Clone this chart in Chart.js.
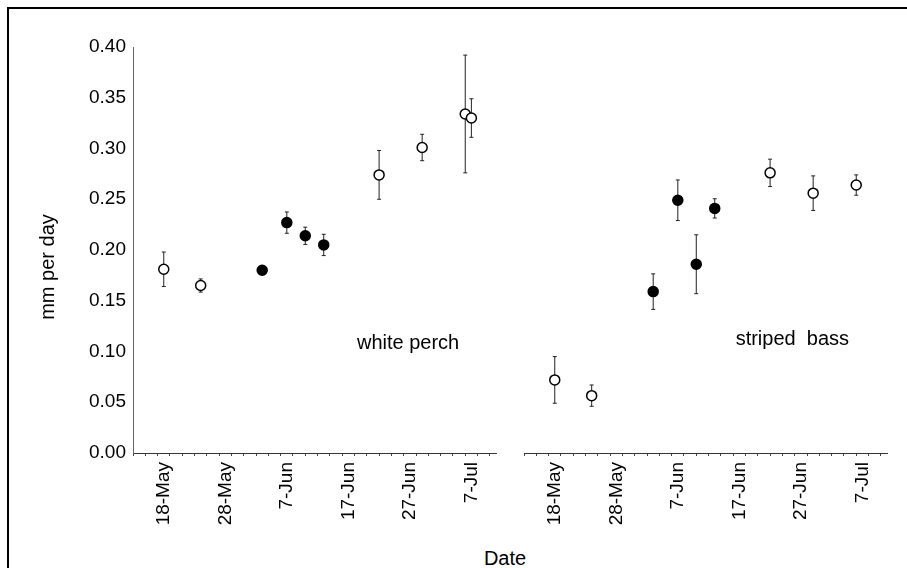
<!DOCTYPE html>
<html>
<head>
<meta charset="utf-8">
<script src="https://cdn.jsdelivr.net/npm/chart.js@4.4.1/dist/chart.umd.min.js"></script>
<style>
  html, body { margin: 0; padding: 0; background: #fff; }
  body { width: 907px; height: 568px; position: relative; overflow: hidden;
         font-family: 'Liberation Sans', Arial, sans-serif; color: #000; }
  #frame { position: absolute; left: 7px; top: 7px; width: 960px; height: 600px;
           border-left: 2px solid #000; border-top: 2px solid #000; }
  #left { position: absolute; left: 0; top: 0; }
  #right { position: absolute; left: 505px; top: 0; }
  .title { position: absolute; font-size: 20px; line-height: 24px; height: 24px; text-align: center; white-space: nowrap; }
  #xtitle { left: 455px; width: 100px; top: 546px; }
  #ytitle { left: -13px; width: 120px; top: 255px; transform: rotate(-90deg); }
</style>
</head>
<body>
<div id="frame"></div>
<canvas id="left" width="505" height="530"></canvas>
<canvas id="right" width="402" height="530"></canvas>
<div class="title" id="ytitle">mm per day</div>
<div class="title" id="xtitle">Date</div>
<script>
// x axis labels (days counted from 18-May)
var tickDays = [0, 10, 20, 30, 40, 50];
var tickLabels = ['18-May', '28-May', '7-Jun', '17-Jun', '27-Jun', '7-Jul'];

// white perch
var perchDates = ['18-May', '24-May', '3-Jun', '7-Jun', '10-Jun', '13-Jun', '22-Jun', '29-Jun', '6-Jul', '7-Jul'];
var perchMean = [0.181, 0.165, 0.180, 0.227, 0.214, 0.205, 0.274, 0.301, 0.334, 0.330];
var perchErr = [0.017, 0.0065, 0.003, 0.0105, 0.0085, 0.0105, 0.024, 0.013, 0.058, 0.019];
var perchFilled = [false, false, true, true, true, true, false, false, false, false];

// striped bass
var bassDates = ['18-May', '24-May', '3-Jun', '7-Jun', '10-Jun', '13-Jun', '22-Jun', '29-Jun', '6-Jul'];
var bassMean = [0.072, 0.0565, 0.159, 0.249, 0.186, 0.241, 0.276, 0.256, 0.264];
var bassErr = [0.023, 0.0105, 0.0175, 0.020, 0.029, 0.0095, 0.0135, 0.017, 0.010];
var bassFilled = [false, false, true, true, true, true, false, false, false];

var FONT = "'Liberation Sans', Arial, sans-serif";
var monthStart = { May: -18, Jun: 13, Jul: 43 };
function dayOf(s) {
    var p = s.split('-');
    return +p[0] + monthStart[p[1]];
}

// vertical error bars with small caps, drawn under the points
var errorBars = {
    id: 'errorBars',
    beforeDatasetsDraw: function (chart) {
        var ctx = chart.ctx, xs = chart.scales.x, ys = chart.scales.y;
        chart.data.datasets.forEach(function (ds) {
            ctx.save();
            ctx.strokeStyle = '#222';
            ctx.lineWidth = 1;
            ds.data.forEach(function (p, i) {
                var x = xs.getPixelForValue(p.x);
                var top = ys.getPixelForValue(p.y + ds.err[i]);
                var bot = ys.getPixelForValue(p.y - ds.err[i]);
                ctx.beginPath();
                ctx.moveTo(x, top); ctx.lineTo(x, bot);
                ctx.moveTo(x - 2, top); ctx.lineTo(x + 2, top);
                ctx.moveTo(x - 2, bot); ctx.lineTo(x + 2, bot);
                ctx.stroke();
            });
            ctx.restore();
        });
    }
};

// species name inside each panel
var panelLabel = {
    id: 'panelLabel',
    afterDatasetsDraw: function (chart, args, opts) {
        var ctx = chart.ctx;
        ctx.save();
        ctx.font = '20px ' + FONT;
        ctx.fillStyle = '#000';
        ctx.textAlign = 'left';
        ctx.textBaseline = 'alphabetic';
        ctx.fillText(opts.text, chart.scales.x.getPixelForValue(opts.x), chart.scales.y.getPixelForValue(opts.y));
        ctx.restore();
    }
};

function makePanel(id, dates, mean, err, filled, showY, pad, label) {
    return new Chart(document.getElementById(id), {
        type: 'scatter',
        data: {
            datasets: [{
                data: dates.map(function (d, i) { return { x: dayOf(d), y: mean[i] }; }),
                err: err,
                pointRadius: 5,
                pointBorderWidth: 1.5,
                pointBorderColor: '#000',
                pointBackgroundColor: filled.map(function (f) { return f ? '#000' : '#fff'; }),
                showLine: false
            }]
        },
        options: {
            responsive: false,
            animation: false,
            events: [],
            layout: { padding: pad },
            plugins: {
                legend: { display: false },
                tooltip: { enabled: false },
                panelLabel: label
            },
            scales: {
                x: {
                    type: 'linear',
                    min: -5,
                    max: 54,
                    afterBuildTicks: function (s) {
                        var t = [];
                        for (var d = -5; d <= 54; d++) t.push({ value: d });
                        s.ticks = t;
                    },
                    afterFit: function (s) {
                        s.height = 77;
                        s.paddingLeft = 0;
                        s.paddingRight = 0;
                    },
                    ticks: {
                        autoSkip: false,
                        minRotation: 90,
                        maxRotation: 90,
                        padding: 6,
                        color: '#000',
                        font: { family: FONT, size: 19 },
                        callback: function (v) {
                            var k = tickDays.indexOf(v);
                            return k >= 0 ? tickLabels[k] : '';
                        }
                    },
                    grid: {
                        drawOnChartArea: false,
                        tickLength: 3,
                        color: function (c) {
                            return c.tick && Math.abs(c.tick.value % 2) === 1 ? '#444' : 'rgba(0,0,0,0)';
                        }
                    },
                    border: { color: '#333', width: 1 }
                },
                y: {
                    display: showY,
                    min: 0,
                    max: 0.4,
                    afterFit: function (s) { s.width = showY ? 133 - pad.left : 0; },
                    ticks: {
                        stepSize: 0.05,
                        padding: 7,
                        color: '#000',
                        font: { family: FONT, size: 19 },
                        callback: function (v) { return v.toFixed(2); }
                    },
                    grid: { display: false, drawTicks: false },
                    border: { display: true, color: '#666', width: 1 }
                }
            }
        },
        plugins: [errorBars, panelLabel]
    });
}

makePanel('left', perchDates, perchMean, perchErr, perchFilled, true,
    { left: 20, right: 9, top: 47, bottom: 0 },
    { text: 'white perch', x: 31.4, y: 0.1025 });
makePanel('right', bassDates, bassMean, bassErr, bassFilled, false,
    { left: 19, right: 20, top: 47, bottom: 0 },
    { text: 'striped  bass', x: 29.4, y: 0.1064 });
</script>
</body>
</html>
